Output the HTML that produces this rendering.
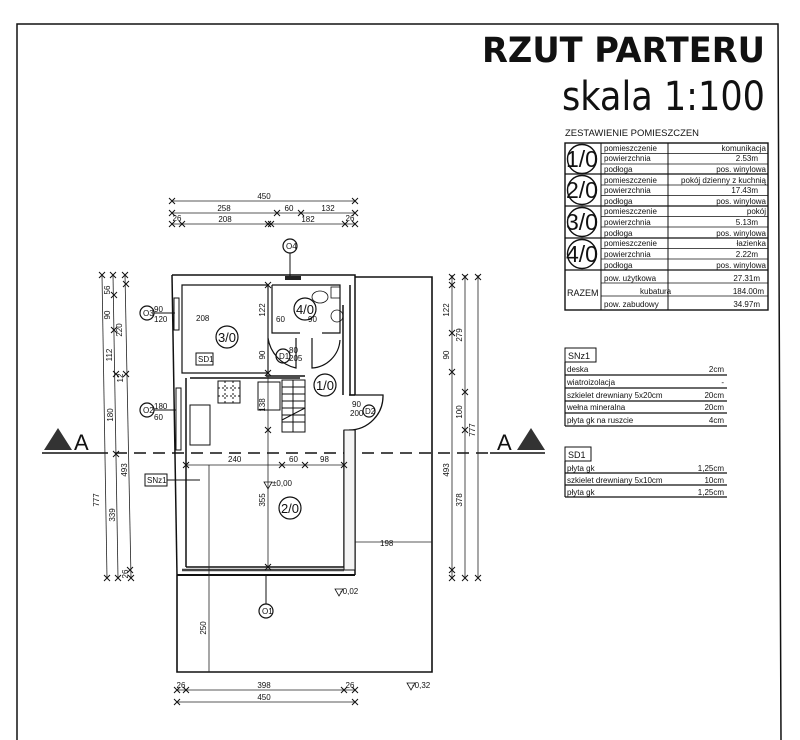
<!DOCTYPE html>
<html><head><meta charset="utf-8"><style>
html,body{margin:0;padding:0;background:#fff;}
svg{display:block}
text{font-family:"Liberation Sans",sans-serif;fill:#111}
.d{stroke:#222;stroke-width:0.8;fill:none}
.w{stroke:#111;stroke-width:1.6;fill:none}
.t{font-size:8px;font-family:"Liberation Sans Narrow","Liberation Sans",sans-serif}
.tb{font-size:9px;font-family:"Liberation Sans Narrow","Liberation Sans",sans-serif}
</style></head><body>
<svg width="800" height="740" viewBox="0 0 800 740" xmlns="http://www.w3.org/2000/svg">
<defs>
<g id="x"><path d="M-3,3L3,-3M-3,-3L3,3" stroke="#111" stroke-width="1"/></g>
</defs>
<path d="M17,740 L17,24 L778,24 L781,740" stroke="#111" stroke-width="1.5" fill="none"/>
<text x="765" y="62" text-anchor="end" font-size="35" font-weight="bold" style="font-family:'DejaVu Sans Condensed','Liberation Sans Narrow',sans-serif" textLength="283" lengthAdjust="spacingAndGlyphs">RZUT PARTERU</text>
<text x="765" y="110" text-anchor="end" font-size="40" style="font-family:'DejaVu Sans Condensed','Liberation Sans',sans-serif" textLength="203" lengthAdjust="spacingAndGlyphs">skala 1:100</text>

<text x="565" y="136" class="tb" textLength="134" lengthAdjust="spacingAndGlyphs">ZESTAWIENIE POMIESZCZEN</text>
<g stroke="#111" fill="none" stroke-width="1">
<rect x="565" y="143" width="203" height="167" stroke-width="1.4"/>
<line x1="565" y1="174" x2="768" y2="174" stroke-width="1.3"/>
<line x1="565" y1="206" x2="768" y2="206" stroke-width="1.3"/>
<line x1="565" y1="238" x2="768" y2="238" stroke-width="1.3"/>
<line x1="565" y1="270" x2="768" y2="270" stroke-width="1.3"/>
<line x1="601" y1="143" x2="601" y2="310"/>
<line x1="668" y1="143" x2="668" y2="310"/>
</g>
<g stroke="#111" stroke-width="0.8">
<line x1="601" y1="153.5" x2="768" y2="153.5"/><line x1="601" y1="164" x2="768" y2="164"/>
<line x1="601" y1="185" x2="768" y2="185"/><line x1="601" y1="195.5" x2="768" y2="195.5"/>
<line x1="601" y1="216.5" x2="768" y2="216.5"/><line x1="601" y1="227" x2="768" y2="227"/>
<line x1="601" y1="248.5" x2="768" y2="248.5"/><line x1="601" y1="259" x2="768" y2="259"/>
<line x1="601" y1="283" x2="768" y2="283"/><line x1="601" y1="296" x2="768" y2="296"/>
</g>
<g fill="none" stroke="#111" stroke-width="1.4">
<circle cx="582" cy="159" r="14.5"/><circle cx="582" cy="190" r="14.5"/><circle cx="582" cy="222" r="14.5"/><circle cx="582" cy="254" r="14.5"/>
</g>
<g font-size="23" text-anchor="middle" style="font-family:'Liberation Sans Narrow',sans-serif">
<text x="582" y="167">1/0</text><text x="582" y="198">2/0</text><text x="582" y="230">3/0</text><text x="582" y="262">4/0</text>
</g>
<text x="567" y="296" class="tb">RAZEM</text>
<g class="t">
<text x="604" y="151">pomieszczenie</text><text x="604" y="161">powierzchnia</text><text x="604" y="172">podłoga</text>
<text x="604" y="183">pomieszczenie</text><text x="604" y="193">powierzchnia</text><text x="604" y="204">podłoga</text>
<text x="604" y="214">pomieszczenie</text><text x="604" y="225">powierzchnia</text><text x="604" y="236">podłoga</text>
<text x="604" y="246">pomieszczenie</text><text x="604" y="257">powierzchnia</text><text x="604" y="268">podłoga</text>
<text x="604" y="281">pow. użytkowa</text><text x="640" y="294">kubatura</text><text x="604" y="307">pow. zabudowy</text>
</g>
<g class="t" text-anchor="end">
<text x="766" y="151">komunikacja</text><text x="758" y="161">2.53m</text><text x="766" y="172">pos. winylowa</text>
<text x="766" y="183">pokój dzienny z kuchnią</text><text x="758" y="193">17.43m</text><text x="766" y="204">pos. winylowa</text>
<text x="766" y="214">pokój</text><text x="758" y="225">5.13m</text><text x="766" y="236">pos. winylowa</text>
<text x="766" y="246">łazienka</text><text x="758" y="257">2.22m</text><text x="766" y="268">pos. winylowa</text>
<text x="760" y="281">27.31m</text><text x="764" y="294">184.00m</text><text x="760" y="307">34.97m</text>
</g>

<rect x="565" y="348" width="31" height="14" fill="none" stroke="#111"/>
<text x="568" y="359" class="tb">SNz1</text>
<g stroke="#111" stroke-width="1.2">
<line x1="565" y1="362" x2="565" y2="426"/>
<line x1="565" y1="375" x2="727" y2="375"/><line x1="565" y1="388" x2="727" y2="388"/>
<line x1="565" y1="401" x2="727" y2="401"/><line x1="565" y1="413" x2="727" y2="413"/><line x1="565" y1="426" x2="727" y2="426"/>
</g>
<g class="t"><text x="567" y="372">deska</text><text x="567" y="385">wiatroizolacja</text><text x="567" y="398">szkielet drewniany 5x20cm</text><text x="567" y="410">wełna mineralna</text><text x="567" y="423">płyta gk na ruszcie</text></g>
<g class="t" text-anchor="end"><text x="724" y="372">2cm</text><text x="724" y="385">-</text><text x="724" y="398">20cm</text><text x="724" y="410">20cm</text><text x="724" y="423">4cm</text></g>
<rect x="565" y="447" width="26" height="14" fill="none" stroke="#111"/>
<text x="568" y="458" class="tb">SD1</text>
<g stroke="#111" stroke-width="1.2">
<line x1="565" y1="461" x2="565" y2="497"/>
<line x1="565" y1="473" x2="727" y2="473"/><line x1="565" y1="485" x2="727" y2="485"/><line x1="565" y1="497" x2="727" y2="497"/>
</g>
<g class="t"><text x="567" y="471">płyta gk</text><text x="567" y="483">szkielet drewniany 5x10cm</text><text x="567" y="495">płyta gk</text></g>
<g class="t" text-anchor="end"><text x="724" y="471">1,25cm</text><text x="724" y="483">10cm</text><text x="724" y="495">1,25cm</text></g>

<line x1="42" y1="453" x2="96" y2="453" stroke="#111" stroke-width="1.5"/>
<line x1="96" y1="453" x2="490" y2="453" stroke="#111" stroke-width="1.5" stroke-dasharray="12,7"/>
<line x1="490" y1="453" x2="545" y2="453" stroke="#111" stroke-width="1.5"/>
<path d="M44,450 L58,428 L72,450 Z" fill="#333"/>
<text x="74" y="450" font-size="22">A</text>
<path d="M517,450 L531,428 L545,450 Z" fill="#333"/>
<text x="497" y="450" font-size="22">A</text>

<path d="M355,277 L432,277 L432,672 L177,672 L177,575" class="w" stroke-width="1.4"/>
<g stroke="#111" stroke-width="1.5" fill="none">
<path d="M172,275 L355,275 L355,395"/>
<path d="M182,285 L268,285 L268,373 L182,373 Z" stroke-width="1.2"/>
<line x1="172" y1="275" x2="177" y2="575"/>
<line x1="186" y1="378" x2="186" y2="567"/>
<line x1="186" y1="567" x2="344" y2="567"/>
<line x1="177" y1="575" x2="355" y2="575" stroke-width="2"/>
<line x1="182" y1="570" x2="344" y2="570" stroke-width="2.5" stroke="#444"/>
<path d="M344,430 L344,567 M355,430 L355,575"/>
<path d="M272,285 L272,333 L300,333 M322,333 L340,333 L340,285 L272,285" stroke-width="1.2"/>
<path d="M343,305 L343,395 M350,285 L350,395 L355,395"/>
<path d="M266,376 L305,376" />
<path d="M190,378 L300,378" />
</g>
<rect x="174" y="298" width="5" height="32" fill="none" stroke="#111"/>
<rect x="176" y="388" width="5" height="62" fill="none" stroke="#111"/>
<rect x="285" y="276" width="16" height="4" fill="#222"/>
<path d="M268,338 A36,36 0 0 0 296,368 L296,338" fill="none" stroke="#111" stroke-width="1.2"/>
<path d="M340,340 A30,30 0 0 1 312,368 L312,338" fill="none" stroke="#111" stroke-width="1.2"/>
<path d="M349,395 L383,395 A34,34 0 0 1 349,430" fill="none" stroke="#111" stroke-width="1.3"/>
<rect x="344" y="430" width="11" height="140" fill="#f4f4f4" stroke="#111" stroke-width="1"/>
<g stroke="#111" stroke-width="1" fill="none">
<rect x="282" y="380" width="23" height="52"/>
<path d="M282,387H305M282,394H305M282,401H305M282,408H305M282,415H305M282,422H305M293,380V432M282,420L305,408"/>
<rect x="218" y="381" width="22" height="22"/>
<path d="M225,381V403M233,381V403M218,388H240M218,396H240" stroke-dasharray="2,2"/>
<rect x="258" y="382" width="22" height="28"/>
<rect x="190" y="405" width="20" height="40"/>
</g>
<g stroke="#111" stroke-width="0.8" fill="none">
<ellipse cx="320" cy="297" rx="8" ry="6"/><rect x="331" y="287" width="9" height="11"/><circle cx="337" cy="316" r="6"/>
</g>
<g fill="none" stroke="#111" stroke-width="1.2">
<circle cx="227" cy="337" r="11"/><circle cx="305" cy="309" r="11"/><circle cx="325" cy="385" r="11"/><circle cx="290" cy="508" r="11"/>
<circle cx="283" cy="356" r="7"/><circle cx="147" cy="313" r="7"/><circle cx="147" cy="410" r="7"/><circle cx="369" cy="411" r="6"/>
<circle cx="290" cy="246" r="7"/><circle cx="266" cy="611" r="7"/>
</g>
<g font-size="13" text-anchor="middle" style="font-family:'Liberation Sans Narrow',sans-serif">
<text x="227" y="342">3/0</text><text x="305" y="314">4/0</text><text x="325" y="390">1/0</text><text x="290" y="513">2/0</text>
</g>
<g class="t" font-size="7">
<text x="143" y="316">O3</text><text x="143" y="413">O2</text><text x="279" y="359">D1</text>
<text x="286" y="249">O4</text><text x="262" y="614">O1</text><text x="365" y="414">D2</text>
<text x="154" y="312">90</text><text x="154" y="322">120</text>
<text x="154" y="409">180</text><text x="154" y="420">60</text>
<text x="289" y="353">80</text><text x="289" y="361">205</text>
<text x="352" y="407">90</text><text x="350" y="416">200</text>
<text x="196" y="321">208</text><text x="276" y="322">60</text><text x="308" y="322">90</text>
<text x="228" y="462">240</text><text x="289" y="462">60</text><text x="320" y="462">98</text>
<text x="272" y="486">±0,00</text><text x="340" y="594">-0,02</text><text x="412" y="688">-0,32</text>
<text x="380" y="546">198</text>
</g>
<rect x="196" y="353" width="17" height="12" fill="none" stroke="#111"/><text x="198" y="362" class="t">SD1</text>
<rect x="145" y="474" width="22" height="12" fill="none" stroke="#111"/><text x="147" y="483" class="t">SNz1</text>
<line x1="167" y1="480" x2="200" y2="480" stroke="#111"/>
<line x1="154" y1="313" x2="175" y2="313" stroke="#111"/><line x1="154" y1="410" x2="176" y2="410" stroke="#111"/>
<line x1="290" y1="253" x2="290" y2="276" stroke="#111"/><line x1="266" y1="575" x2="266" y2="604" stroke="#111"/>
<path d="M264,482 L272,482 L268,489 Z M335,589 L343,589 L339,596 Z M407,683 L415,683 L411,690 Z" fill="none" stroke="#111" stroke-width="0.8"/>

<g class="d">
<line x1="172" y1="201" x2="355" y2="201"/><line x1="172" y1="213" x2="355" y2="213"/><line x1="172" y1="224" x2="355" y2="224"/>
<line x1="209" y1="465" x2="209" y2="672"/>
<line x1="186" y1="465" x2="344" y2="465"/>
</g>
<use href="#x" x="172" y="201"/><use href="#x" x="355" y="201"/><use href="#x" x="172" y="213"/><use href="#x" x="277" y="213"/><use href="#x" x="301" y="213"/><use href="#x" x="355" y="213"/>
<use href="#x" x="172" y="224"/><use href="#x" x="182" y="224"/><use href="#x" x="268" y="224"/><use href="#x" x="271" y="224"/><use href="#x" x="345" y="224"/><use href="#x" x="355" y="224"/>
<g class="t" text-anchor="middle">
<text x="264" y="199">450</text><text x="224" y="211">258</text><text x="289" y="211">60</text><text x="328" y="211">132</text>
<text x="225" y="222">208</text><text x="308" y="222">182</text><text x="177" y="221">26</text><text x="350" y="221">26</text>
<text x="264" y="688">398</text><text x="264" y="700">450</text><text x="181" y="688">26</text><text x="350" y="688">26</text>
</g>
<g class="d"><line x1="177" y1="690" x2="355" y2="690"/><line x1="177" y1="702" x2="355" y2="702"/></g>
<use href="#x" x="177" y="690"/><use href="#x" x="186" y="690"/><use href="#x" x="344" y="690"/><use href="#x" x="355" y="690"/><use href="#x" x="177" y="702"/><use href="#x" x="355" y="702"/>
<g class="d">
<line x1="102" y1="275" x2="107" y2="578"/><line x1="113" y1="275" x2="118" y2="578"/><line x1="125" y1="275" x2="131" y2="578"/>
<line x1="268" y1="285" x2="268" y2="567"/>
<line x1="452" y1="275" x2="452" y2="578"/><line x1="465" y1="275" x2="465" y2="578"/><line x1="478" y1="275" x2="478" y2="578"/>
<line x1="355" y1="542" x2="432" y2="542"/>
</g>
<use href="#x" x="102" y="275"/><use href="#x" x="113" y="275"/><use href="#x" x="125" y="275"/><use href="#x" x="126" y="284"/><use href="#x" x="114" y="295"/><use href="#x" x="114" y="330"/><use href="#x" x="116" y="374"/><use href="#x" x="126" y="374"/><use href="#x" x="116" y="454"/><use href="#x" x="107" y="578"/><use href="#x" x="118" y="578"/><use href="#x" x="131" y="578"/><use href="#x" x="130" y="570"/>
<use href="#x" x="452" y="277"/><use href="#x" x="465" y="277"/><use href="#x" x="478" y="277"/><use href="#x" x="452" y="285"/><use href="#x" x="452" y="333"/><use href="#x" x="452" y="372"/><use href="#x" x="465" y="392"/><use href="#x" x="465" y="430"/><use href="#x" x="452" y="570"/><use href="#x" x="452" y="578"/><use href="#x" x="465" y="578"/><use href="#x" x="478" y="578"/>
<use href="#x" x="268" y="285"/><use href="#x" x="268" y="373"/><use href="#x" x="268" y="430"/><use href="#x" x="268" y="567"/><use href="#x" x="186" y="465"/><use href="#x" x="282" y="465"/><use href="#x" x="305" y="465"/><use href="#x" x="344" y="465"/>
<g class="t" text-anchor="middle">
<text transform="translate(99,500) rotate(-90)">777</text>
<text transform="translate(110,290) rotate(-90)">56</text><text transform="translate(110,315) rotate(-90)">90</text><text transform="translate(112,355) rotate(-90)">112</text><text transform="translate(113,415) rotate(-90)">180</text><text transform="translate(115,515) rotate(-90)">339</text>
<text transform="translate(122,330) rotate(-90)">220</text><text transform="translate(123,378) rotate(-90)">12</text><text transform="translate(127,470) rotate(-90)">493</text><text transform="translate(128,574) rotate(-90)">26</text>
<text transform="translate(449,310) rotate(-90)">122</text><text transform="translate(449,355) rotate(-90)">90</text><text transform="translate(449,470) rotate(-90)">493</text>
<text transform="translate(462,335) rotate(-90)">279</text><text transform="translate(462,412) rotate(-90)">100</text><text transform="translate(462,500) rotate(-90)">378</text>
<text transform="translate(475,430) rotate(-90)">777</text>
<text transform="translate(265,310) rotate(-90)">122</text><text transform="translate(265,355) rotate(-90)">90</text><text transform="translate(265,405) rotate(-90)">138</text><text transform="translate(265,500) rotate(-90)">355</text>
<text transform="translate(206,628) rotate(-90)">250</text>
</g>
</svg>
</body></html>
